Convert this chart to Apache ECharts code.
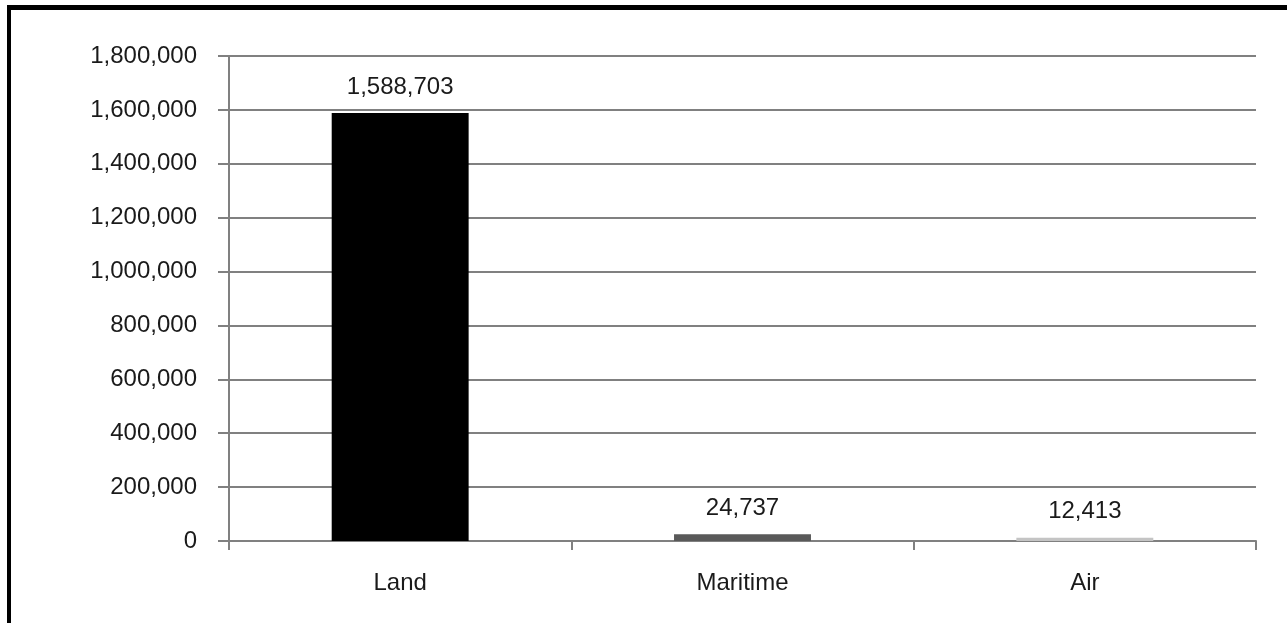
<!DOCTYPE html>
<html>
<head>
<meta charset="utf-8">
<script src="https://cdn.jsdelivr.net/npm/echarts@6/dist/echarts.min.js"></script>
<style>
  html, body { margin: 0; padding: 0; background: #fff; }
  #frame {
    position: absolute; left: 7px; top: 5px; width: 1280px; height: 618px;
    border-left: 4px solid #000; border-top: 5px solid #000; box-sizing: border-box;
  }
  #chart { position: absolute; left: 0; top: 0; width: 1287px; height: 623px; }
</style>
</head>
<body>
<div id="frame"></div>
<div id="chart"></div>
<script>
// 数据
const categories = ["Land", "Maritime", "Air"];
const values = [1588703, 24737, 12413];
const barColors = ["#000000", "#595959", "#c4c4c4"];

const fmt = v => v.toLocaleString("en-US");

const chart = echarts.init(document.getElementById("chart"));
chart.setOption({
  animation: false,
  textStyle: { fontFamily: "Liberation Sans, Arial, sans-serif" },
  grid: { left: 229, right: 31, top: 56, bottom: 82, containLabel: false },
  xAxis: {
    type: "category",
    data: categories,
    axisLine: { lineStyle: { color: "#808080", width: 2 } },
    axisTick: { show: true, length: 9, alignWithLabel: false, lineStyle: { color: "#808080", width: 2 } },
    axisLabel: { color: "#1a1a1a", fontSize: 24, margin: 30 }
  },
  yAxis: {
    type: "value",
    min: 0,
    max: 1800000,
    interval: 200000,
    axisLine: { show: true, lineStyle: { color: "#808080", width: 2 } },
    axisTick: { show: true, length: 11, lineStyle: { color: "#808080", width: 2 } },
    splitLine: { lineStyle: { color: "#808080", width: 2 } },
    axisLabel: { color: "#1a1a1a", fontSize: 24, margin: 32, formatter: v => fmt(v) }
  },
  series: [{
    type: "bar",
    barWidth: "40%",
    data: values.map((v, i) => ({ value: v, itemStyle: { color: barColors[i] } })),
    label: {
      show: true,
      position: "top",
      distance: 14,
      color: "#1a1a1a",
      fontSize: 24,
      formatter: p => fmt(p.value)
    }
  }]
});
</script>
</body>
</html>
